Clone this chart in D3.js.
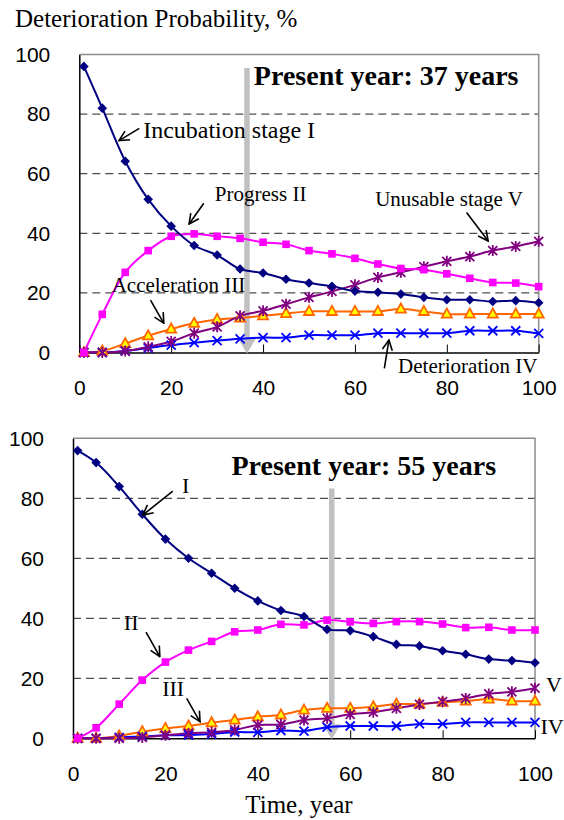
<!DOCTYPE html>
<html>
<head>
<meta charset="utf-8">
<script src="https://cdn.jsdelivr.net/npm/d3@7"></script>
<style>
  body { margin: 0; background: #fff; }
  svg { display: block; }
</style>
</head>
<body>
<div id="chart"></div>
<script>
const years = [1, 5, 10, 15, 20, 25, 30, 35, 40, 45, 50, 55, 60, 65, 70, 75, 80, 85, 90, 95, 100]

const topStageI = [96, 82, 64.2, 51.4, 42.4, 35.9, 32.7, 28.0, 26.7, 24.6, 23.3, 22.2, 20.6, 20.2, 19.6, 18.5, 17.7, 17.7, 17.1, 17.4, 16.7]
const topStageII = [0, 12.8, 26.9, 34.2, 39.0, 39.8, 39.0, 38.3, 37.0, 36.3, 34.2, 33.1, 31.6, 29.7, 28.2, 27.8, 26.4, 24.9, 23.5, 23.3, 22.1]
const topStageIII = [0, 0.5, 3.0, 5.6, 7.9, 9.8, 11.1, 11.6, 12.3, 13.1, 13.8, 13.8, 13.8, 13.8, 14.6, 13.8, 12.9, 12.9, 12.9, 12.9, 12.9]
const topStageIV = [0, 0, 0.5, 1.5, 2.5, 3.3, 4.0, 4.6, 5.0, 5.0, 5.8, 5.8, 5.8, 6.5, 6.5, 6.5, 6.5, 7.3, 7.3, 7.3, 6.4]
const topStageV = [0, 0, 0.5, 1.9, 3.7, 6.5, 8.6, 12.3, 14.0, 16.2, 18.5, 20.5, 22.7, 25.2, 26.9, 28.8, 30.6, 32.2, 34.2, 35.6, 37.3]

const bottomStageI = [95.9, 91.9, 83.9, 74.7, 66.4, 60.0, 55.0, 50.0, 45.8, 42.6, 40.6, 36.3, 35.9, 33.9, 31.3, 30.8, 29.2, 28.0, 26.4, 25.9, 25.2]
const bottomStageII = [0, 3.5, 11.4, 19.4, 25.4, 29.4, 32.3, 35.5, 36.1, 38.0, 37.8, 39.4, 38.8, 38.3, 38.9, 38.9, 38.1, 36.9, 37.0, 36.1, 36.1]
const bottomStageIII = [0, 0, 0.8, 2.2, 3.3, 4.1, 5.2, 6.1, 7.2, 7.8, 9.4, 10.0, 10.0, 10.5, 11.4, 11.4, 12.0, 12.4, 13.1, 12.4, 12.4]
const bottomStageIV = [0, 0, 0.3, 0.6, 1.0, 1.1, 1.4, 2.1, 2.0, 2.6, 2.4, 3.7, 4.1, 4.1, 4.1, 4.8, 4.8, 5.3, 5.3, 5.3, 5.3]
const bottomStageV = [0, 0, 0, 0.3, 1.0, 1.7, 2.0, 2.8, 4.4, 4.6, 6.1, 6.7, 8.0, 8.7, 10.0, 11.3, 12.2, 13.3, 14.8, 15.5, 16.7]

const xTicks = [0, 20, 40, 60, 80, 100]
const yTicks = [0, 20, 40, 60, 80, 100]
const gridValues = [20, 40, 60, 80]

const presentYears = ['Present year: 37 years', 'Present year: 55 years']

// annotation text + arrow (all in data units)
const topNotes = [
  { text: 'Incubation stage I', x: 13.9, y: 72.0, size: 24, from: [13.06, 75.2], to: [8.64, 71.1] },
  { text: 'Progress II', x: 29.5, y: 50.9, size: 21, from: [27.1, 50.1], to: [23.9, 43.1] },
  { text: 'Unusable stage V', x: 64.4, y: 49.3, size: 21, from: [84.3, 47.0], to: [89.0, 37.4] },
  { text: 'Acceleration III', x: 7.05, y: 20.2, size: 21, from: [15.5, 17.6], to: [18.4, 9.8] },
  { text: 'Deterioration IV', x: 69.4, y: -7.0, size: 21, from: [66.4, -5.3], to: [67.4, 4.2] }
]
const bottomNotes = [
  { text: 'I', x: 23.6, y: 81.8, size: 22, from: [21.6, 82.4], to: [15.1, 74.4] },
  { text: 'II', x: 11.0, y: 36.1, size: 22, from: [15.8, 35.4], to: [18.8, 27.2] },
  { text: 'III', x: 19.3, y: 14.2, size: 22, from: [24.6, 13.3], to: [27.5, 5.5] },
  { text: 'V', x: 102.4, y: 15.5, size: 22 },
  { text: 'IV', x: 101.2, y: 1.4, size: 22 }
]

const svg = d3
  .select('#chart')
  .append('svg')
  .attr('width', 564)
  .attr('height', 820)

const defs = svg.append('defs')
defs
  .append('marker')
  .attr('id', 'open-arrow')
  .attr('viewBox', '0 0 12 12')
  .attr('refX', 11)
  .attr('refY', 6)
  .attr('markerWidth', 12)
  .attr('markerHeight', 12)
  .attr('markerUnits', 'userSpaceOnUse')
  .attr('orient', 'auto')
  .append('path')
  .attr('d', 'M1,1 L11,6 L1,11')
  .attr('fill', 'none')
  .attr('stroke', 'black')
  .attr('stroke-width', 1.6)

svg
  .append('text')
  .text('Deterioration Probability, %')
  .attr('x', 15)
  .attr('y', 27)
  .attr('font-family', '"Liberation Serif", "Times New Roman", serif')
  .attr('font-size', 25)

svg
  .append('text')
  .text('Time, year')
  .attr('x', 299)
  .attr('y', 813)
  .attr('text-anchor', 'middle')
  .attr('font-family', '"Liberation Serif", "Times New Roman", serif')
  .attr('font-size', 25)

const symbols = {
  diamond: g => g.append('path').attr('d', 'M0,-4.8L4.8,0L0,4.8L-4.8,0Z').attr('fill', '#000080'),
  square: g => g.append('rect').attr('x', -3.8).attr('y', -3.8).attr('width', 7.6).attr('height', 7.6).attr('fill', '#ff00ff'),
  triangle: g => g.append('path').attr('d', 'M0,-5.5L5,3.6L-5,3.6Z').attr('fill', '#ffff00').attr('stroke', '#ff6600').attr('stroke-width', 1.8),
  cross: g => g.append('path').attr('d', 'M-4.5,-4.5L4.5,4.5M-4.5,4.5L4.5,-4.5').attr('stroke', '#0000ff').attr('stroke-width', 1.8),
  star: g => g.append('path').attr('d', 'M-4.5,-4.5L4.5,4.5M-4.5,4.5L4.5,-4.5M0,-5.5L0,5.5').attr('stroke', '#800080').attr('stroke-width', 1.8)
}

function drawChart(opts) {
  const g = svg.append('g')

  const xPositionScale = d3.scaleLinear().domain([0, 100]).range([opts.left, opts.right])
  const yPositionScale = d3.scaleLinear().domain([0, 100]).range([opts.bottom, opts.top])

  // dashed grid
  g.selectAll('.grid')
    .data(gridValues)
    .enter()
    .append('line')
    .attr('x1', opts.left)
    .attr('x2', opts.right)
    .attr('y1', d => yPositionScale(d))
    .attr('y2', d => yPositionScale(d))
    .attr('stroke', '#222')
    .attr('stroke-width', 1)
    .attr('stroke-dasharray', '8,5')

  // grey frame on top and right
  g.append('path')
    .attr('d', 'M' + opts.left + ',' + yPositionScale(100) + 'H' + opts.right + 'V' + yPositionScale(0))
    .attr('fill', 'none')
    .attr('stroke', '#8c8c8c')
    .attr('stroke-width', 1.5)

  const xAxis = d3.axisBottom(xPositionScale).tickValues(xTicks).tickSize(-8).tickSizeOuter(0).tickPadding(28)
  const xg = g.append('g')
    .attr('transform', 'translate(0,' + yPositionScale(0) + ')')
    .call(xAxis)
  xg.selectAll('.tick text')
    .attr('font-family', '"Liberation Sans", Arial, sans-serif')
    .attr('font-size', 21)
    .attr('fill', '#000')
  xg.select('.domain').attr('stroke', '#000').attr('stroke-width', 1.5)
  xg.selectAll('.tick line').attr('stroke', '#000')

  const yAxis = d3.axisLeft(yPositionScale).tickValues(yTicks).tickSize(0).tickPadding(29)
  const yg = g.append('g')
    .attr('transform', 'translate(' + opts.left + ',0)')
    .call(yAxis)
  yg.selectAll('.tick text')
    .attr('font-family', '"Liberation Sans", Arial, sans-serif')
    .attr('font-size', 21)
    .attr('fill', '#000')
  yg.select('.domain').attr('stroke', '#000').attr('stroke-width', 1.5)

  // grey "present year" arrow
  const ax = xPositionScale(opts.arrowAt)
  const tipY = yPositionScale(0) + 1
  g.append('line')
    .attr('x1', ax)
    .attr('x2', ax)
    .attr('y1', yPositionScale(opts.arrowTop))
    .attr('y2', tipY - 12)
    .attr('stroke', '#c0c0c0')
    .attr('stroke-width', 5.5)
  g.append('path')
    .attr('d', 'M' + (ax - 9) + ',' + (tipY - 15) + 'L' + (ax + 9) + ',' + (tipY - 15) + 'L' + ax + ',' + tipY + 'Z')
    .attr('fill', '#c0c0c0')

  const line = d3
    .line()
    .x((d, i) => xPositionScale(years[i]))
    .y(d => yPositionScale(d))
    .curve(d3.curveCatmullRom.alpha(0.5))

  opts.series.forEach(function(s) {
    g.append('path')
      .datum(s.values)
      .attr('d', line)
      .attr('fill', 'none')
      .attr('stroke', s.color)
      .attr('stroke-width', 2)
  })

  opts.series.forEach(function(s) {
    g.selectAll('.pt-' + s.symbol)
      .data(s.values)
      .enter()
      .append('g')
      .attr('transform', (d, i) => 'translate(' + xPositionScale(years[i]) + ',' + yPositionScale(d) + ')')
      .each(function() {
        symbols[s.symbol](d3.select(this))
      })
  })

  g.append('text')
    .text(opts.title)
    .attr('x', xPositionScale(opts.titleX))
    .attr('y', yPositionScale(opts.titleY))
    .attr('font-family', '"Liberation Serif", "Times New Roman", serif')
    .attr('font-weight', 'bold')
    .attr('font-size', 28)

  opts.notes.forEach(function(n) {
    g.append('text')
      .text(n.text)
      .attr('x', xPositionScale(n.x))
      .attr('y', yPositionScale(n.y))
      .attr('font-family', '"Liberation Serif", "Times New Roman", serif')
      .attr('font-size', n.size)
    if (n.from) {
      g.append('line')
        .attr('x1', xPositionScale(n.from[0]))
        .attr('y1', yPositionScale(n.from[1]))
        .attr('x2', xPositionScale(n.to[0]))
        .attr('y2', yPositionScale(n.to[1]))
        .attr('stroke', 'black')
        .attr('stroke-width', 1.6)
        .attr('marker-end', 'url(#open-arrow)')
    }
  })
}

drawChart({
  left: 79.3,
  right: 538.7,
  top: 54.5,
  bottom: 352.5,
  arrowAt: 36.5,
  arrowTop: 95.5,
  title: presentYears[0],
  titleX: 38.0,
  titleY: 89.8,
  notes: topNotes,
  series: [
    { values: topStageIII, color: '#ff6600', symbol: 'triangle' },
    { values: topStageIV, color: '#0000ff', symbol: 'cross' },
    { values: topStageV, color: '#800080', symbol: 'star' },
    { values: topStageII, color: '#ff00ff', symbol: 'square' },
    { values: topStageI, color: '#000080', symbol: 'diamond' }
  ]
})

drawChart({
  left: 73,
  right: 535,
  top: 438.3,
  bottom: 738.3,
  arrowAt: 56,
  arrowTop: 83.3,
  title: presentYears[1],
  titleX: 34.3,
  titleY: 87.8,
  notes: bottomNotes,
  series: [
    { values: bottomStageIII, color: '#ff6600', symbol: 'triangle' },
    { values: bottomStageIV, color: '#0000ff', symbol: 'cross' },
    { values: bottomStageV, color: '#800080', symbol: 'star' },
    { values: bottomStageII, color: '#ff00ff', symbol: 'square' },
    { values: bottomStageI, color: '#000080', symbol: 'diamond' }
  ]
})
</script>
</body>
</html>
